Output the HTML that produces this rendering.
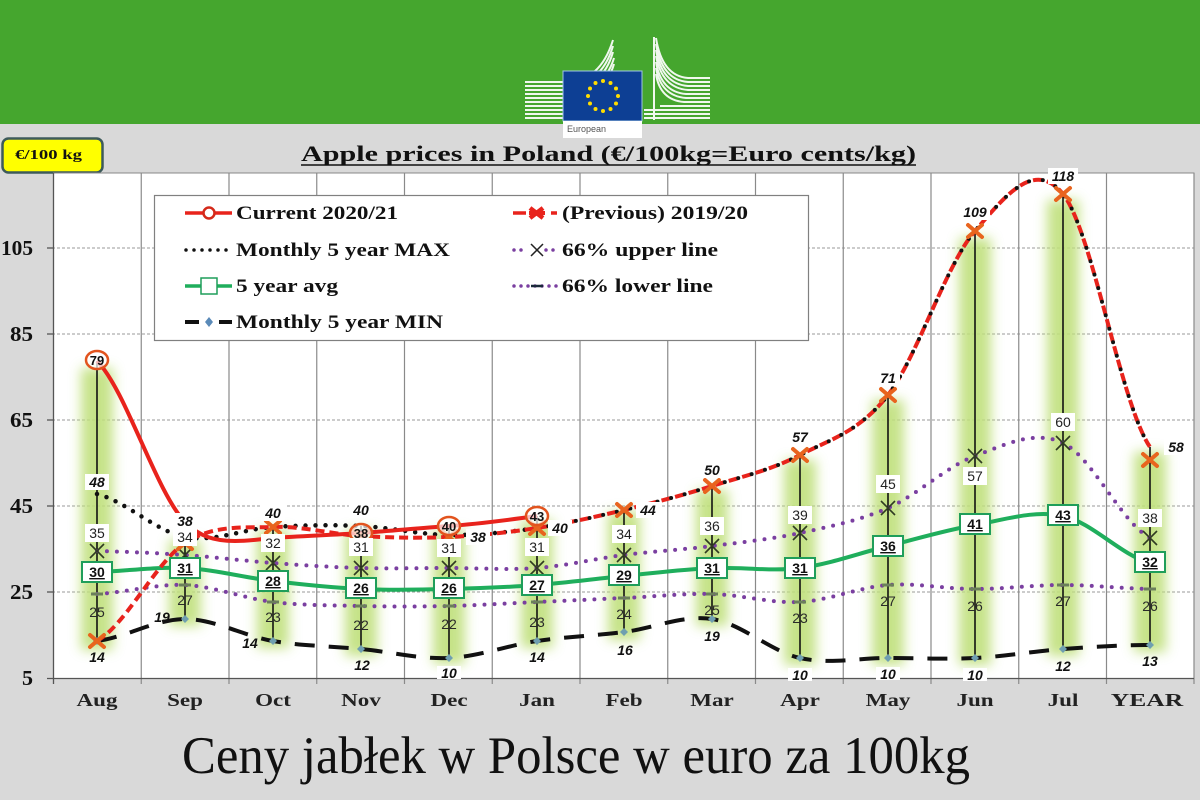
<!DOCTYPE html>
<html><head><meta charset="utf-8"><style>
html,body{margin:0;padding:0;background:#d9d9d9;}
svg{display:block;}
</style></head><body>
<svg width="1200" height="800" viewBox="0 0 1200 800" xmlns="http://www.w3.org/2000/svg">
<defs>
<filter id="bl" x="-100%" y="-20%" width="300%" height="140%"><feGaussianBlur stdDeviation="6"/></filter>
</defs>
<rect x="0" y="0" width="1200" height="800" fill="#d9d9d9"/>
<rect x="0" y="0" width="1200" height="124" fill="#45a62e"/>
<!-- logo -->
<g stroke="#ffffff" stroke-width="2" fill="none" opacity="0.92">
<path d="M525,82 L565,82 Q600,82 613,40"/>
<path d="M525,86 L565,86 Q601,86 613,46"/>
<path d="M525,90 L565,90 Q602,90 613,52"/>
<path d="M525,94 L565,94 Q603,94 614,58"/>
<path d="M525,98 L565,98 Q604,98 614,64"/>
<path d="M525,102 L565,102"/>
<path d="M525,106 L565,106"/>
<path d="M525,110 L565,110"/>
<path d="M525,114 L565,114"/>
<path d="M525,118 L565,118"/>
<path d="M710,78 L688,78 Q662,76 656,38"/>
<path d="M710,82 L688,82 Q662,80 656,44"/>
<path d="M710,86 L688,86 Q662,84 656,50"/>
<path d="M710,90 L688,90 Q662,88 656,56"/>
<path d="M710,94 L686,94 Q661,92 656,62"/>
<path d="M710,98 L686,98 Q661,96 656,68"/>
<path d="M710,102 L684,102 Q660,100 656,74"/>
<path d="M710,106 L660,106"/>
<path d="M710,110 L644,110"/>
<path d="M710,114 L644,114"/>
<path d="M710,118 L644,118"/>
<path d="M654,37 L654,120"/>
</g>
<rect x="563" y="71" width="79" height="50" fill="#0d3f94" stroke="#9ec3e6" stroke-width="1"/>
<g fill="#ffdd00">
<circle cx="603" cy="81" r="2"/><circle cx="610.5" cy="83" r="2"/><circle cx="616" cy="88.5" r="2"/><circle cx="618" cy="96" r="2"/><circle cx="616" cy="103.5" r="2"/><circle cx="610.5" cy="109" r="2"/><circle cx="603" cy="111" r="2"/><circle cx="595.5" cy="109" r="2"/><circle cx="590" cy="103.5" r="2"/><circle cx="588" cy="96" r="2"/><circle cx="590" cy="88.5" r="2"/><circle cx="595.5" cy="83" r="2"/>
</g>
<rect x="563" y="121" width="79" height="17" fill="#ffffff"/>
<text x="567" y="132" font-family="Liberation Sans, sans-serif" font-size="9" fill="#555">European</text>

<!-- unit box -->
<rect x="2.5" y="138.5" width="100" height="34" rx="6" ry="6" fill="#ffff00" stroke="#3d5a5a" stroke-width="2.5"/>
<text x="15" y="159" font-family="Liberation Serif, serif" font-weight="bold" font-size="14" textLength="67" lengthAdjust="spacingAndGlyphs" fill="#111">€/100 kg</text>

<!-- title -->
<text x="301" y="161" font-family="Liberation Serif, serif" font-weight="bold" font-size="22" textLength="615" lengthAdjust="spacingAndGlyphs" fill="#111">Apple prices in Poland (€/100kg=Euro cents/kg)</text>
<line x1="301" y1="165" x2="916" y2="165" stroke="#111" stroke-width="1.6"/>

<!-- plot area -->
<rect x="53.5" y="173" width="1140.5" height="505.5" fill="#ffffff" stroke="#888" stroke-width="1"/>
<g stroke="#999" stroke-width="1" stroke-dasharray="3,2">
<line x1="47" y1="248" x2="1194" y2="248"/>
<line x1="47" y1="334" x2="1194" y2="334"/>
<line x1="47" y1="420" x2="1194" y2="420"/>
<line x1="47" y1="506" x2="1194" y2="506"/>
<line x1="47" y1="592" x2="1194" y2="592"/>
</g>
<g stroke="#8a8a8a" stroke-width="1.2">
<line x1="141.25" y1="173" x2="141.25" y2="684"/>
<line x1="229" y1="173" x2="229" y2="684"/>
<line x1="316.75" y1="173" x2="316.75" y2="684"/>
<line x1="404.5" y1="173" x2="404.5" y2="684"/>
<line x1="492.25" y1="173" x2="492.25" y2="684"/>
<line x1="580" y1="173" x2="580" y2="684"/>
<line x1="667.75" y1="173" x2="667.75" y2="684"/>
<line x1="755.5" y1="173" x2="755.5" y2="684"/>
<line x1="843.25" y1="173" x2="843.25" y2="684"/>
<line x1="931" y1="173" x2="931" y2="684"/>
<line x1="1018.75" y1="173" x2="1018.75" y2="684"/>
<line x1="1106.5" y1="173" x2="1106.5" y2="684"/>
<line x1="1194" y1="173" x2="1194" y2="684"/>
</g>
<g stroke="#555" stroke-width="1.3">
<line x1="53.5" y1="173" x2="53.5" y2="684"/>
<line x1="47" y1="678.5" x2="1194" y2="678.5"/>
<line x1="47" y1="248" x2="53.5" y2="248"/>
<line x1="47" y1="334" x2="53.5" y2="334"/>
<line x1="47" y1="420" x2="53.5" y2="420"/>
<line x1="47" y1="506" x2="53.5" y2="506"/>
<line x1="47" y1="592" x2="53.5" y2="592"/>
</g>

<!-- y labels -->
<g font-family="Liberation Serif, serif" font-weight="bold" font-size="21" fill="#111">
<text x="1" y="255" textLength="32" lengthAdjust="spacingAndGlyphs">105</text>
<text x="10" y="341" textLength="23" lengthAdjust="spacingAndGlyphs">85</text>
<text x="10" y="427" textLength="23" lengthAdjust="spacingAndGlyphs">65</text>
<text x="10" y="513" textLength="23" lengthAdjust="spacingAndGlyphs">45</text>
<text x="10" y="599" textLength="23" lengthAdjust="spacingAndGlyphs">25</text>
<text x="22" y="685" textLength="11" lengthAdjust="spacingAndGlyphs">5</text>
</g>

<!-- x labels -->
<g font-family="Liberation Serif, serif" font-weight="bold" font-size="18" fill="#222" text-anchor="middle">
<text transform="translate(97 706) scale(1.28 1)">Aug</text>
<text transform="translate(185 706) scale(1.28 1)">Sep</text>
<text transform="translate(273 706) scale(1.28 1)">Oct</text>
<text transform="translate(361 706) scale(1.28 1)">Nov</text>
<text transform="translate(449 706) scale(1.28 1)">Dec</text>
<text transform="translate(537 706) scale(1.28 1)">Jan</text>
<text transform="translate(624 706) scale(1.28 1)">Feb</text>
<text transform="translate(712 706) scale(1.28 1)">Mar</text>
<text transform="translate(800 706) scale(1.28 1)">Apr</text>
<text transform="translate(888 706) scale(1.28 1)">May</text>
<text transform="translate(975 706) scale(1.28 1)">Jun</text>
<text transform="translate(1063 706) scale(1.28 1)">Jul</text>
<text transform="translate(1147 706) scale(1.42 1)">YEAR</text>
</g>

<!-- glows -->
<g fill="#c0e07c" opacity="0.9" filter="url(#bl)">
<rect x="81" y="368" width="32" height="282"/>
<rect x="169" y="540" width="32" height="86"/>
<rect x="257" y="530" width="32" height="118"/>
<rect x="345" y="530" width="32" height="126"/>
<rect x="433" y="530" width="32" height="134"/>
<rect x="521" y="520" width="32" height="128"/>
<rect x="608" y="512" width="32" height="128"/>
<rect x="696" y="490" width="32" height="136"/>
<rect x="784" y="460" width="32" height="205"/>
<rect x="872" y="400" width="32" height="265"/>
<rect x="959" y="238" width="32" height="427"/>
<rect x="1047" y="200" width="32" height="456"/>
<rect x="1134" y="452" width="32" height="200"/>
</g>

<!-- high-low lines -->
<g stroke="#111" stroke-width="1.6">
<line x1="97" y1="361" x2="97" y2="641"/>
<line x1="185" y1="537" x2="185" y2="619"/>
<line x1="273" y1="527" x2="273" y2="641"/>
<line x1="361" y1="526" x2="361" y2="649"/>
<line x1="449" y1="526" x2="449" y2="658"/>
<line x1="537" y1="516" x2="537" y2="641"/>
<line x1="624" y1="510" x2="624" y2="632"/>
<line x1="712" y1="486" x2="712" y2="619"/>
<line x1="800" y1="455" x2="800" y2="658"/>
<line x1="888" y1="395" x2="888" y2="658"/>
<line x1="975" y1="231" x2="975" y2="658"/>
<line x1="1063" y1="194" x2="1063" y2="649"/>
<line x1="1150" y1="447" x2="1150" y2="645"/>
</g>

<!-- 66% lower -->
<path d="M97,594 C126,592.5 156,583.7 185,585 C214,586.3 244,598.5 273,602 C302,605.5 332,605.3 361,606 C390,606.7 420,606.7 449,606 C478,605.3 508,603.3 537,602 C566,600.7 595,599.3 624,598 C653,596.7 683,593.3 712,594 C741,594.7 771,603.5 800,602 C829,600.5 859,587.2 888,585 C917,582.8 946,589 975,589 C1004,589 1034,585 1063,585 C1092,585 1121,588.3 1150,589" fill="none" stroke="#7a3fa0" stroke-width="4" stroke-dasharray="0,10" stroke-linecap="round"/>
<!-- 66% upper -->
<path d="M97,551 C126,551.7 156,553 185,555 C214,557 244,560.8 273,563 C302,565.2 332,567.2 361,568 C390,568.8 420,568 449,568 C478,568 508,570.2 537,568 C566,565.8 595,558.7 624,555 C653,551.3 683,549.7 712,546 C741,542.3 771,539.3 800,533 C829,526.7 859,520.8 888,508 C917,495.2 946,466.8 975,456 C1004,445.2 1034,429.3 1063,443 C1092,456.7 1121,522.2 1150,538" fill="none" stroke="#7a3fa0" stroke-width="4" stroke-dasharray="0,10" stroke-linecap="round"/>
<!-- min -->
<path d="M97,641 C126,637.3 156,619 185,619 C214,619 244,636 273,641 C302,646 332,646.2 361,649 C390,651.8 420,659.3 449,658 C478,656.7 508,645.3 537,641 C566,636.7 595,635.7 624,632 C653,628.3 683,614.7 712,619 C741,623.3 771,651.5 800,658 C829,664.5 859,658 888,658 C917,658 946,659.5 975,658 C1004,656.5 1034,651.2 1063,649 C1092,646.8 1121,645 1150,645" fill="none" stroke="#111" stroke-width="4" stroke-dasharray="20,14"/>
<!-- avg -->
<path d="M97,572 C126,571.3 156,566.5 185,568 C214,569.5 244,577.5 273,581 C302,584.5 332,587.7 361,589 C390,590.3 420,589.7 449,589 C478,588.3 508,587.2 537,585 C566,582.8 595,578.8 624,576 C653,573.2 683,569.3 712,568 C741,566.7 771,571.7 800,568 C829,564.3 859,553.2 888,546 C917,538.8 946,530 975,525 C1004,520 1034,509.7 1063,516 C1092,522.3 1121,555.2 1150,563" fill="none" stroke="#1fae5c" stroke-width="4"/>
<!-- max Aug-Jan -->
<path d="M97,494 C126,501.2 156,531.5 185,537 C214,542.5 244,528.8 273,527 C302,525.2 332,524.7 361,526 C390,527.3 420,534.7 449,535 C478,535.3 508,532.3 537,528" fill="none" stroke="#111" stroke-width="4.5" stroke-dasharray="0,10" stroke-linecap="round"/>
<!-- previous -->
<path d="M97,641 C126,624.7 156,562 185,543 C214,524 244,528.2 273,527 C302,525.8 332,534.3 361,536 C390,537.7 420,538.3 449,537 C478,535.7 508,532.5 537,528 C566,523.5 595,517 624,510 C653,503 683,495.2 712,486 C741,476.8 771,470.2 800,455 C829,439.8 859,432.3 888,395 C917,357.7 946,264.5 975,231 C1004,197.5 1034,158 1063,194 C1092,230 1121,404.8 1150,447" fill="none" stroke="#e8231c" stroke-width="4" stroke-dasharray="9,5"/>
<path d="M537,528 C566,523.5 595,517 624,510 C653,503 683,495.2 712,486 C741,476.8 771,470.2 800,455 C829,439.8 859,432.3 888,395 C917,357.7 946,264.5 975,231 C1004,197.5 1034,158 1063,194 C1092,230 1121,404.8 1150,447" fill="none" stroke="#111" stroke-width="4" stroke-dasharray="0,14" stroke-dashoffset="2.5" stroke-linecap="round"/>
<!-- current -->
<path d="M97,361 C126,390 156,492 185,522 C200,537 215,541 235,541 C250,541 262,539 273,538 C302,536 332,535 361,533 C390,531 420,528 449,526 C478,524 508,520 537,516" fill="none" stroke="#e8231c" stroke-width="4"/>

<!-- lower markers -->
<g stroke="#6b7f5b" stroke-width="3">
<line x1="91" y1="594" x2="103" y2="594"/><line x1="179" y1="585" x2="191" y2="585"/><line x1="267" y1="602" x2="279" y2="602"/><line x1="355" y1="606" x2="367" y2="606"/><line x1="443" y1="606" x2="455" y2="606"/><line x1="531" y1="602" x2="543" y2="602"/><line x1="618" y1="598" x2="630" y2="598"/><line x1="706" y1="594" x2="718" y2="594"/><line x1="794" y1="602" x2="806" y2="602"/><line x1="882" y1="585" x2="894" y2="585"/><line x1="969" y1="589" x2="981" y2="589"/><line x1="1057" y1="585" x2="1069" y2="585"/><line x1="1144" y1="589" x2="1156" y2="589"/>
</g>
<!-- upper markers -->
<g stroke="#2f3a22" stroke-width="1.6">
<path d="M90,544 L104,558 M104,544 L90,558"/>
<path d="M178,548 L192,562 M192,548 L178,562"/>
<path d="M266,556 L280,570 M280,556 L266,570"/>
<path d="M354,561 L368,575 M368,561 L354,575"/>
<path d="M442,561 L456,575 M456,561 L442,575"/>
<path d="M530,561 L544,575 M544,561 L530,575"/>
<path d="M617,548 L631,562 M631,548 L617,562"/>
<path d="M705,539 L719,553 M719,539 L705,553"/>
<path d="M793,526 L807,540 M807,526 L793,540"/>
<path d="M881,501 L895,515 M895,501 L881,515"/>
<path d="M968,449 L982,463 M982,449 L968,463"/>
<path d="M1056,436 L1070,450 M1070,436 L1056,450"/>
<path d="M1143,531 L1157,545 M1157,531 L1143,545"/>
</g>
<!-- min markers -->
<g fill="#6f9fb0">
<path d="M97,637 L101,641 L97,645 L93,641Z"/><path d="M185,615 L189,619 L185,623 L181,619Z"/><path d="M273,637 L277,641 L273,645 L269,641Z"/><path d="M361,645 L365,649 L361,653 L357,649Z"/><path d="M449,654 L453,658 L449,662 L445,658Z"/><path d="M537,637 L541,641 L537,645 L533,641Z"/><path d="M624,628 L628,632 L624,636 L620,632Z"/><path d="M712,615 L716,619 L712,623 L708,619Z"/><path d="M800,654 L804,658 L800,662 L796,658Z"/><path d="M888,654 L892,658 L888,662 L884,658Z"/><path d="M975,654 L979,658 L975,662 L971,658Z"/><path d="M1063,645 L1067,649 L1063,653 L1059,649Z"/><path d="M1150,641 L1154,645 L1150,649 L1146,645Z"/>
</g>
<!-- previous X markers -->
<g stroke="#e8641e" stroke-width="4" stroke-linecap="round">
<path d="M90,635 L104,647 M104,635 L90,647"/>
<path d="M178,537 L192,549 M192,537 L178,549"/>
<path d="M266,521 L280,533 M280,521 L266,533"/>
<path d="M354,530 L368,542 M368,530 L354,542"/>
<path d="M442,531 L456,543 M456,531 L442,543"/>
<path d="M530,522 L544,534 M544,522 L530,534"/>
<path d="M617,504 L631,516 M631,504 L617,516"/>
<path d="M705,480 L719,492 M719,480 L705,492"/>
<path d="M793,449 L807,461 M807,449 L793,461"/>
<path d="M881,389 L895,401 M895,389 L881,401"/>
<path d="M968,225 L982,237 M982,225 L968,237"/>
<path d="M1056,188 L1070,200 M1070,188 L1056,200"/>
<path d="M1143,454 L1157,466 M1157,454 L1143,466"/>
</g>

<!-- current circles -->
<g fill="#ffffff" fill-opacity="0.7" stroke="#e2541e" stroke-width="2.5">
<ellipse cx="97" cy="360" rx="11" ry="9"/>
<ellipse cx="361" cy="533" rx="11" ry="9"/>
<ellipse cx="449" cy="526" rx="11" ry="9"/>
<ellipse cx="537" cy="516" rx="11" ry="9"/>
</g>
<g font-family="Liberation Sans, sans-serif" font-weight="bold" font-size="13" fill="#111" text-anchor="middle">
<text x="97" y="365">79</text><text x="361" y="538">38</text><text x="449" y="531">40</text><text x="537" y="521">43</text>
</g>

<!-- upper labels -->
<g fill="#ffffff">
<rect x="85" y="524" width="24" height="18"/><rect x="173" y="528" width="24" height="18"/><rect x="261" y="534" width="24" height="18"/><rect x="349" y="538" width="24" height="18"/><rect x="437" y="539" width="24" height="18"/><rect x="525" y="538" width="24" height="18"/><rect x="612" y="525" width="24" height="18"/><rect x="700" y="517" width="24" height="18"/><rect x="788" y="506" width="24" height="18"/><rect x="876" y="475" width="24" height="18"/><rect x="963" y="467" width="24" height="18"/><rect x="1051" y="413" width="24" height="18"/><rect x="1138" y="509" width="24" height="18"/>
</g>
<g font-family="Liberation Sans, sans-serif" font-size="14" fill="#222" text-anchor="middle">
<text x="97" y="538">35</text><text x="185" y="542">34</text><text x="273" y="548">32</text><text x="361" y="552">31</text><text x="449" y="553">31</text><text x="537" y="552">31</text><text x="624" y="539">34</text><text x="712" y="531">36</text><text x="800" y="520">39</text><text x="888" y="489">45</text><text x="975" y="481">57</text><text x="1063" y="427">60</text><text x="1150" y="523">38</text>
</g>
<!-- lower labels -->
<g font-family="Liberation Sans, sans-serif" font-size="14" fill="#2a2a2a" text-anchor="middle">
<text x="97" y="617">25</text><text x="185" y="605">27</text><text x="273" y="622">23</text><text x="361" y="630">22</text><text x="449" y="629">22</text><text x="537" y="627">23</text><text x="624" y="619">24</text><text x="712" y="615">25</text><text x="800" y="623">23</text><text x="888" y="606">27</text><text x="975" y="611">26</text><text x="1063" y="606">27</text><text x="1150" y="611">26</text>
</g>
<!-- min labels -->
<g fill="#ffffff">
<rect x="437" y="666" width="24" height="13"/><rect x="788" y="668" width="24" height="13"/><rect x="876" y="667" width="24" height="13"/><rect x="963" y="668" width="24" height="13"/>
</g>
<g font-family="Liberation Sans, sans-serif" font-weight="bold" font-style="italic" font-size="14" fill="#111" text-anchor="middle">
<text x="97" y="662">14</text><text x="162" y="622">19</text><text x="250" y="648">14</text><text x="362" y="670">12</text><text x="449" y="678">10</text><text x="537" y="662">14</text><text x="625" y="655">16</text><text x="712" y="641">19</text><text x="800" y="680">10</text><text x="888" y="679">10</text><text x="975" y="680">10</text><text x="1063" y="671">12</text><text x="1150" y="666">13</text>
</g>
<!-- prev / max labels -->
<g fill="#ffffff">
<rect x="85" y="474" width="24" height="16"/><rect x="173" y="513" width="24" height="16"/><rect x="261" y="505" width="24" height="16"/><rect x="349" y="502" width="24" height="16"/><rect x="466" y="529" width="24" height="16"/><rect x="548" y="520" width="24" height="16"/><rect x="636" y="502" width="24" height="16"/><rect x="700" y="462" width="24" height="16"/><rect x="788" y="429" width="24" height="16"/><rect x="876" y="370" width="24" height="16"/><rect x="960" y="204" width="30" height="16"/><rect x="1048" y="168" width="30" height="16"/><rect x="1164" y="439" width="24" height="16"/>
</g>
<g font-family="Liberation Sans, sans-serif" font-weight="bold" font-style="italic" font-size="14" fill="#111" text-anchor="middle">
<text x="97" y="487">48</text><text x="185" y="526">38</text><text x="273" y="518">40</text><text x="361" y="515">40</text><text x="478" y="542">38</text><text x="560" y="533">40</text><text x="648" y="515">44</text><text x="712" y="475">50</text><text x="800" y="442">57</text><text x="888" y="383">71</text><text x="975" y="217">109</text><text x="1063" y="181">118</text><text x="1176" y="452">58</text>
</g>
<!-- avg boxes -->
<g fill="#ffffff" stroke="#1f9e5a" stroke-width="2">
<rect x="82" y="562" width="30" height="20"/><rect x="170" y="558" width="30" height="20"/><rect x="258" y="571" width="30" height="20"/><rect x="346" y="578" width="30" height="20"/><rect x="434" y="578" width="30" height="20"/><rect x="522" y="575" width="30" height="20"/><rect x="609" y="565" width="30" height="20"/><rect x="697" y="558" width="30" height="20"/><rect x="785" y="558" width="30" height="20"/><rect x="873" y="536" width="30" height="20"/><rect x="960" y="514" width="30" height="20"/><rect x="1048" y="505" width="30" height="20"/><rect x="1135" y="552" width="30" height="20"/>
</g>
<g font-family="Liberation Sans, sans-serif" font-weight="bold" font-size="14" fill="#111" text-anchor="middle" text-decoration="underline">
<text x="97" y="577">30</text><text x="185" y="573">31</text><text x="273" y="586">28</text><text x="361" y="593">26</text><text x="449" y="593">26</text><text x="537" y="590">27</text><text x="624" y="580">29</text><text x="712" y="573">31</text><text x="800" y="573">31</text><text x="888" y="551">36</text><text x="975" y="529">41</text><text x="1063" y="520">43</text><text x="1150" y="567">32</text>
</g>

<!-- legend -->
<rect x="154.5" y="195.5" width="654" height="145" fill="#ffffff" stroke="#808080" stroke-width="1.2"/>
<line x1="185" y1="213" x2="232" y2="213" stroke="#e8231c" stroke-width="3.5"/>
<circle cx="209" cy="213" r="5.5" fill="#ffffff" stroke="#d42a1a" stroke-width="2.5"/>
<line x1="186" y1="250" x2="232" y2="250" stroke="#111" stroke-width="3.5" stroke-dasharray="0,8" stroke-linecap="round"/>
<line x1="185" y1="286" x2="232" y2="286" stroke="#1fae5c" stroke-width="3.5"/>
<rect x="201" y="278" width="16" height="16" fill="#ffffff" stroke="#1f9e5a" stroke-width="1.5"/>
<line x1="185" y1="322" x2="199" y2="322" stroke="#111" stroke-width="4"/>
<path d="M209,317 L213,322 L209,327 L205,322Z" fill="#5a8ab8"/>
<line x1="219" y1="322" x2="232" y2="322" stroke="#111" stroke-width="4"/>
<line x1="513" y1="213" x2="526" y2="213" stroke="#e8231c" stroke-width="3.5"/>
<path d="M530,208 L543,218 M543,208 L530,218" stroke="#e8231c" stroke-width="4.5"/>
<line x1="529" y1="213" x2="545" y2="213" stroke="#e8231c" stroke-width="4"/>
<line x1="551" y1="213" x2="557" y2="213" stroke="#e8231c" stroke-width="3.5"/>
<line x1="514" y1="250" x2="528" y2="250" stroke="#7a3fa0" stroke-width="3.5" stroke-dasharray="0,7" stroke-linecap="round"/>
<path d="M531,244 L543,256 M543,244 L531,256" stroke="#222" stroke-width="1.5"/>
<line x1="546" y1="250" x2="560" y2="250" stroke="#7a3fa0" stroke-width="3.5" stroke-dasharray="0,7" stroke-linecap="round"/>
<line x1="514" y1="286" x2="560" y2="286" stroke="#7a3fa0" stroke-width="3.5" stroke-dasharray="0,7" stroke-linecap="round"/>
<line x1="531" y1="286" x2="543" y2="286" stroke="#1a2a3a" stroke-width="2.5"/>
<g font-family="Liberation Serif, serif" font-weight="bold" font-size="19" fill="#111">
<text x="236" y="219" textLength="162" lengthAdjust="spacingAndGlyphs">Current 2020/21</text>
<text x="236" y="256" textLength="214" lengthAdjust="spacingAndGlyphs">Monthly 5 year MAX</text>
<text x="236" y="292" textLength="102" lengthAdjust="spacingAndGlyphs">5 year avg</text>
<text x="236" y="328" textLength="207" lengthAdjust="spacingAndGlyphs">Monthly 5 year MIN</text>
<text x="562" y="219" textLength="186" lengthAdjust="spacingAndGlyphs">(Previous) 2019/20</text>
<text x="562" y="256" textLength="156" lengthAdjust="spacingAndGlyphs">66% upper line</text>
<text x="562" y="292" textLength="151" lengthAdjust="spacingAndGlyphs">66% lower line</text>
</g>

<!-- caption -->
<text x="182" y="773" font-family="Liberation Serif, serif" font-size="53" textLength="788" lengthAdjust="spacingAndGlyphs" fill="#111">Ceny jabłek w Polsce w euro za 100kg</text>
</svg>
</body></html>
